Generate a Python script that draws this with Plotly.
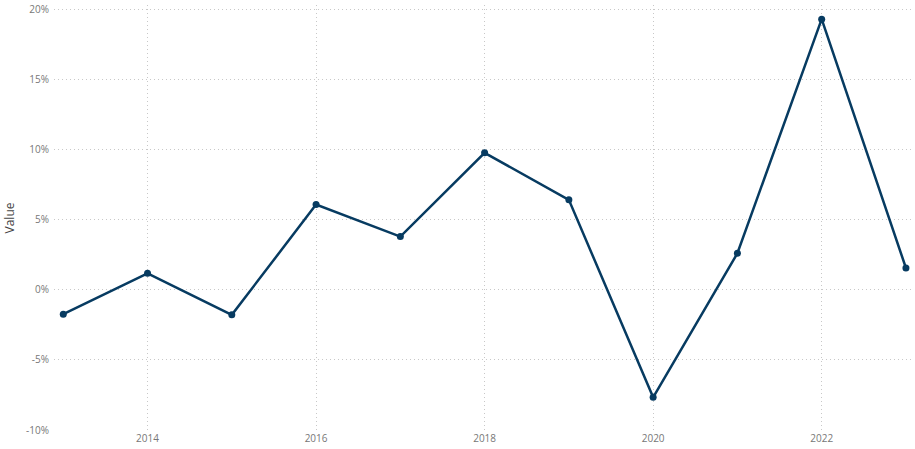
import plotly.graph_objects as go

years = [2013, 2014, 2015, 2016, 2017, 2018, 2019, 2020, 2021, 2022, 2023]
values = [-1.74, 1.17, -1.79, 6.07, 3.79, 9.76, 6.41, -7.67, 2.60, 19.29, 1.55]

y_tick_vals = [-10, -5, 0, 5, 10, 15, 20]
y_tick_text = ["-10%", "-5%", "0%", "5%", "10%", "15%", "20%"]
x_tick_vals = [2014, 2016, 2018, 2020, 2022]
x_tick_text = ["2014", "2016", "2018", "2020", "2022"]

line_color = "#073B61"

fig = go.Figure()
fig.add_trace(go.Scatter(
    x=years, y=values, mode="lines+markers",
    line=dict(color=line_color, width=2.5),
    marker=dict(color=line_color, size=7),
    cliponaxis=False,
    hoverinfo="x+y",
))

grid = dict(showgrid=True, gridcolor="#c8c8c8", gridwidth=1, griddash="1px,3px",
            zeroline=False, showline=False, ticks="")

fig.update_layout(
    width=915, height=449,
    margin=dict(l=54, r=4, t=5, b=18, autoexpand=False),
    paper_bgcolor="white", plot_bgcolor="white",
    font=dict(family="Segoe UI, Open Sans, sans-serif", size=11, color="#777777"),
    showlegend=False,
    xaxis=dict(range=[2012.89, 2023.06], tickvals=x_tick_vals, ticktext=x_tick_text,
               tickfont=dict(size=10, color="#777777"), automargin=False, **grid),
    yaxis=dict(range=[-10.07, 20.3], tickvals=y_tick_vals, ticktext=y_tick_text,
               tickfont=dict(size=10, color="#777777"), automargin=False,
               ticklabelstandoff=4,
               title=dict(text="Value", font=dict(size=12, color="#444444"), standoff=8),
               **grid),
)

fig.write_html("out.html",
               config={"displayModeBar": False},
               post_script="document.body.style.margin='0';document.body.style.overflow='hidden';")
